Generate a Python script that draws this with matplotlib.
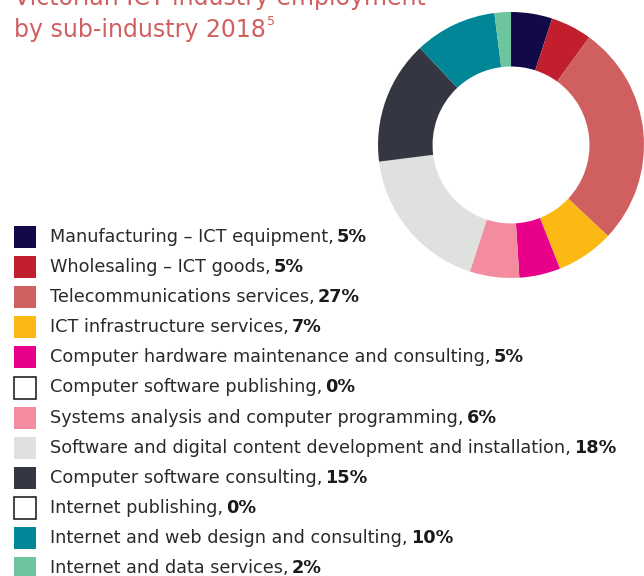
import matplotlib.pyplot as plt
from matplotlib.patches import Rectangle

plt.rcParams['font.family'] = ['DejaVu Sans']

categories = [
    'Manufacturing – ICT equipment',
    'Wholesaling – ICT goods',
    'Telecommunications services',
    'ICT infrastructure services',
    'Computer hardware maintenance and consulting',
    'Computer software publishing',
    'Systems analysis and computer programming',
    'Software and digital content development and installation',
    'Computer software consulting',
    'Internet publishing',
    'Internet and web design and consulting',
    'Internet and data services',
]
shares = [5, 5, 27, 7, 5, 0, 6, 18, 15, 0, 10, 2]
colors = ['#120a48', '#c21f2e', '#d06060', '#fdb913', '#e8008a', '#ffffff',
          '#f48ca0', '#dfe1df', '#343642', '#ffffff', '#008697', '#6cc59e']

fig = plt.figure(figsize=(6.44, 5.76), dpi=100)
W, H = 644, 576

# donut
ax = fig.add_axes([0.587, 0.5174, 0.413, 0.4618])
ax.pie(shares, colors=colors, startangle=90, counterclock=False, radius=1,
       wedgeprops={'width': 0.41, 'linewidth': 0})
ax.set_xlim(-1, 1)
ax.set_ylim(-1, 1)
ax.set_aspect('equal')
ax.axis('off')

fig.canvas.draw()
renderer = fig.canvas.get_renderer()

# title (top line is cropped in the original)
fig.text(14 / W, 1 - 5 / H, 'Victorian ICT industry employment', fontsize=17,
         color='#d06060', ha='left', va='baseline')
t2 = fig.text(14 / W, 1 - 37 / H, 'by sub-industry 2018', fontsize=17,
              color='#d06060', ha='left', va='baseline')
bb = t2.get_window_extent(renderer)
fig.text(bb.x1 / W + 0.002, 1 - 25 / H, '5', fontsize=9, color='#d06060',
         ha='left', va='baseline')

# legend drawn by hand so the percentage can be bold
for i, (name, val, col) in enumerate(zip(categories, shares, colors)):
    yc = 237 + i * 30.1
    fig.patches.append(Rectangle((14 / W, 1 - (yc + 11) / H), 22 / W, 22 / H,
                                 transform=fig.transFigure, facecolor=col,
                                 edgecolor='#222222' if col == '#ffffff' else col,
                                 linewidth=1.2 if col == '#ffffff' else 0))
    t = fig.text(50 / W, 1 - yc / H, name + ', ', fontsize=12.7, color='#2a2a2a',
                 ha='left', va='center')
    bb = t.get_window_extent(renderer)
    fig.text(bb.x1 / W - 0.004, 1 - yc / H, f'{val}%', fontsize=12.7, color='#1a1a1a',
             fontweight='bold', ha='left', va='center')

fig.savefig('out.png', dpi=100)
